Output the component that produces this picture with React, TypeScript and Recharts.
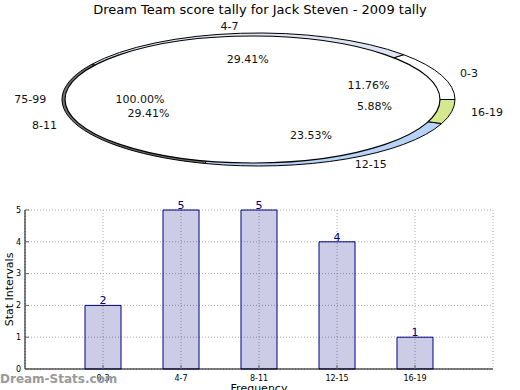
import React from "react";
import { PieChart, Pie, BarChart, Bar, XAxis, YAxis, CartesianGrid, LabelList } from "recharts";

const bins = ["0-3", "4-7", "8-11", "12-15", "16-19"];
const counts = [2, 5, 5, 4, 1];
const binColors = ["#ffffff", "#dde5f5", "#6e6e6e", "#b7d3f7", "#d5e88e"];
const restNames = ["75-99"];
const restCounts = [1];
const yTicks = [0, 1, 2, 3, 4, 5];

const binData = bins.map((name, i) => ({ name, value: counts[i] }));
const restData = restNames.map((name, i) => ({ name, value: restCounts[i] }));

const FONT = "'DejaVu Sans', sans-serif";
const RAD = Math.PI / 180;
// the pie is drawn as a flattened ellipse, ry = r * k
const K_OUT = 66.5 / 196.5;
const K_IN = 63.5 / 187.5;

function ellipsePt(cx: number, cy: number, r: number, k: number, deg: number) {
  return [cx + r * Math.cos(deg * RAD), cy - k * r * Math.sin(deg * RAD)];
}

function ellipseSector(cx: number, cy: number, r: number, k: number, start: number, end: number) {
  const ry = r * k;
  if (Math.abs(end - start) >= 359.999) {
    return `M ${cx - r} ${cy} A ${r} ${ry} 0 1 0 ${cx + r} ${cy} A ${r} ${ry} 0 1 0 ${cx - r} ${cy} Z`;
  }
  const [x0, y0] = ellipsePt(cx, cy, r, k, start);
  const [x1, y1] = ellipsePt(cx, cy, r, k, end);
  const large = Math.abs(end - start) > 180 ? 1 : 0;
  const sweep = end > start ? 0 : 1;
  return `M ${cx} ${cy} L ${x0} ${y0} A ${r} ${ry} 0 ${large} ${sweep} ${x1} ${y1} Z`;
}

const textStyle = { fontFamily: FONT, fontSize: 11, fill: "#111" };

function sliceTexts(p: any, k: number) {
  const right = Math.cos(p.midAngle * RAD) >= 0;
  const [lx, ly] = ellipsePt(p.cx, p.cy, p.outerRadius * 1.1, k, p.midAngle);
  const [px, py] = ellipsePt(p.cx, p.cy, p.outerRadius * 0.6, k, p.midAngle);
  return (
    <g>
      <text x={lx} y={ly} textAnchor={right ? "start" : "end"} dominantBaseline="central" style={textStyle}>
        {p.name}
      </text>
      <text x={px} y={py} textAnchor="middle" dominantBaseline="central" style={textStyle}>
        {(p.percent * 100).toFixed(2)}%
      </text>
    </g>
  );
}

const binShape = (p: any) => (
  <path
    key={`s${p.index}`}
    d={ellipseSector(p.cx, p.cy, p.outerRadius, K_OUT, p.startAngle, p.endAngle)}
    fill={binColors[p.index]}
    stroke="#000"
    strokeWidth={1}
  />
);

const restShape = (p: any) => (
  <g key={`r${p.index}`}>
    <path
      d={ellipseSector(p.cx, p.cy, p.outerRadius, K_IN, p.startAngle, p.endAngle)}
      fill="#ffffff"
      stroke="#000"
      strokeWidth={1.2}
    />
    {sliceTexts(p, K_IN)}
  </g>
);

const binTexts = (p: any) => <g key={`t${p.index}`}>{sliceTexts(p, K_OUT)}</g>;

export default function App() {
  return (
    <div style={{ position: "absolute", left: 0, top: 0, width: 520, height: 390, background: "#fff", fontFamily: FONT }}>
      <div style={{ position: "absolute", left: 0, top: 2, width: 520, textAlign: "center", fontSize: 13, color: "#000" }}>
        Dream Team score tally for Jack Steven - 2009 tally
      </div>
      <div style={{ position: "absolute", left: 0, top: 0 }}>
        <PieChart width={520} height={195} margin={{ top: 0, right: 0, bottom: 0, left: 0 }}>
          <Pie data={binData} dataKey="value" nameKey="name" cx={258.5} cy={99.5} outerRadius={196.5}
            fill="none" stroke="none" label={binShape} labelLine={false} isAnimationActive={false} />
          <Pie data={restData} dataKey="value" nameKey="name" cx={252.5} cy={99.5} outerRadius={187.5}
            fill="none" stroke="none" label={restShape} labelLine={false} isAnimationActive={false} />
          <Pie data={binData} dataKey="value" nameKey="name" cx={258.5} cy={99.5} outerRadius={196.5}
            fill="none" stroke="none" label={binTexts} labelLine={false} isAnimationActive={false} />
        </PieChart>
      </div>
      <div style={{ position: "absolute", left: 0, top: 195 }}>
        <BarChart width={520} height={195} data={binData} margin={{ top: 15, right: 27, bottom: 0, left: 0 }}>
          <CartesianGrid stroke="#aaaaaa" strokeDasharray="1 2" />
          <XAxis
            dataKey="name"
            padding={{ left: 39, right: 39 }}
            height={21}
            tickSize={-4}
            tickMargin={10}
            tickLine={{ stroke: "#666" }}
            tick={{ fontSize: 8, fill: "#000", fontFamily: FONT }}
            axisLine={{ stroke: "#000" }}
            label={(p: any) => {
              const vb = p.viewBox || { x: 25, y: 174, width: 468, height: 21 };
              return (
                <text x={vb.x + vb.width / 2} y={vb.y + vb.height + 2} textAnchor="middle" style={{ fontFamily: FONT, fontSize: 11, fill: "#000" }}>
                  Frequency
                </text>
              );
            }}
          />
          <XAxis xAxisId="top" orientation="top" dataKey="name" height={0} tick={false} tickLine={false}
            axisLine={{ stroke: "#000" }} padding={{ left: 39, right: 39 }} />
          <YAxis
            domain={[0, 5]}
            ticks={yTicks}
            width={25}
            tickSize={-4}
            tickMargin={8}
            tickLine={{ stroke: "#666" }}
            tick={{ fontSize: 8, fill: "#000", fontFamily: FONT }}
            axisLine={{ stroke: "#000" }}
            label={(p: any) => {
              const vb = p.viewBox || { x: 0, y: 15, width: 25, height: 159 };
              const cy = vb.y + vb.height / 2;
              return (
                <text x={9} y={cy} transform={`rotate(-90, 9, ${cy})`} textAnchor="middle" dominantBaseline="central"
                  style={{ fontFamily: FONT, fontSize: 11, fill: "#000" }}>
                  Stat Intervals
                </text>
              );
            }}
          />
          <YAxis yAxisId="right" orientation="right" width={0} tick={false} tickLine={false} axisLine={{ stroke: "#000" }} />
          <Bar dataKey="value" barSize={36} fill="#000080" fillOpacity={0.2} stroke="#000080" strokeWidth={1} isAnimationActive={false}>
            <LabelList dataKey="value" position="top" offset={1} style={{ fontFamily: FONT, fontSize: 11, fill: "#000080" }} />
          </Bar>
        </BarChart>
      </div>
      <div style={{ position: "absolute", left: 0, top: 372, fontSize: 12, color: "#9a9a9a", fontWeight: 600 }}>
        Dream-Stats.com
      </div>
    </div>
  );
}
